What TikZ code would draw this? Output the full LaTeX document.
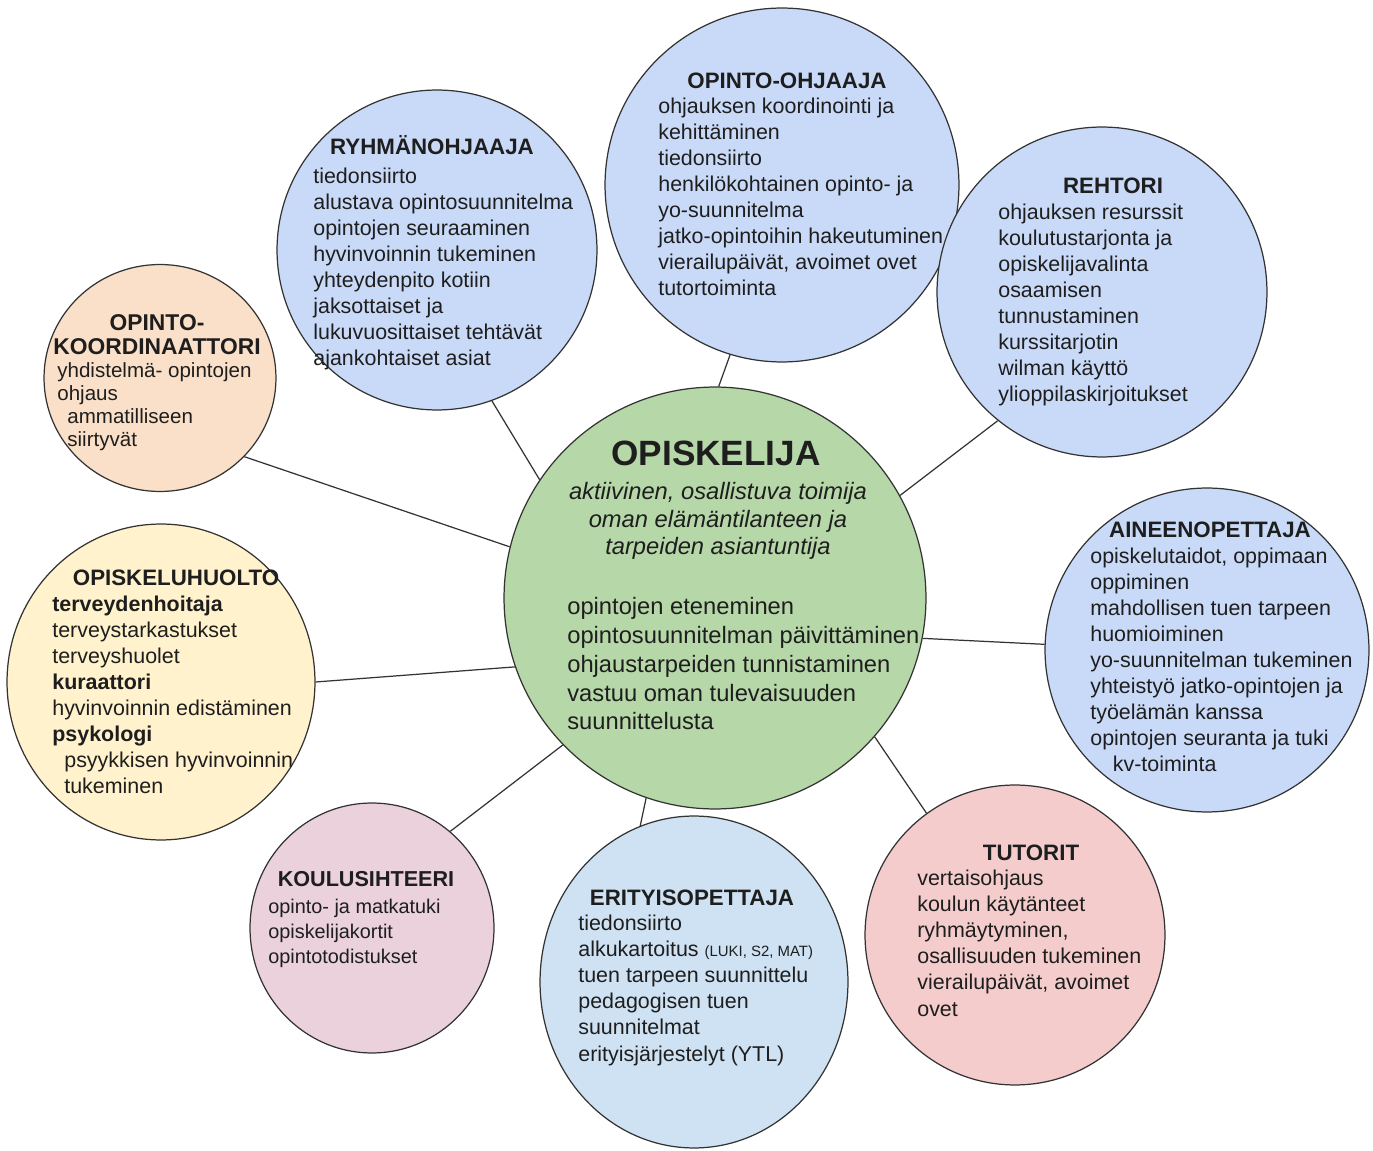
\documentclass[tikz,border=0pt]{standalone}
\usepackage{fontspec}
\setmainfont{Liberation Sans}
\usetikzlibrary{shapes.geometric}
\definecolor{bluefill}{HTML}{C9DAF8}
\definecolor{greenfill}{HTML}{B6D7A8}
\definecolor{peachfill}{HTML}{FAE0C8}
\definecolor{yellowfill}{HTML}{FFF2CC}
\definecolor{pinkfill}{HTML}{EAD1DC}
\definecolor{lightbluefill}{HTML}{CFE2F3}
\definecolor{redfill}{HTML}{F4CCCC}
\definecolor{edgecol}{HTML}{333333}
\definecolor{ink}{HTML}{1E1E1E}
\tikzset{
  bubble/.style={ellipse, draw=edgecol, line width=0.7pt, inner sep=0pt},
  head/.style={font=\fontsize{12.7}{14.8}\selectfont\bfseries, text=ink, anchor=base, inner sep=0pt},
  body/.style={font=\fontsize{12.2}{14.8}\selectfont, text=ink, align=left, anchor=base west, inner sep=0pt},
  link/.style={draw=edgecol, line width=0.7pt}
}
\begin{document}
\begin{tikzpicture}[x=0.02cm, y=-0.02cm]
\useasboundingbox (0,0) rectangle (1373,1151);
\node[bubble, fill=greenfill, minimum width=8.44cm, minimum height=8.44cm] (opisk) at (715,598) {};
\node[bubble, fill=bluefill, minimum width=6.4cm, minimum height=6.4cm] (ryhma) at (437,250) {};
\node[bubble, fill=bluefill, minimum width=7.08cm, minimum height=7.08cm] (ohjaaja) at (782,185) {};
\node[bubble, fill=bluefill, minimum width=6.6cm, minimum height=6.6cm] (rehtori) at (1102,292) {};
\node[bubble, fill=bluefill, minimum width=6.48cm, minimum height=6.48cm] (aine) at (1207,650) {};
\node[bubble, fill=redfill, minimum width=6cm, minimum height=6cm] (tutorit) at (1015,935) {};
\node[bubble, fill=lightbluefill, minimum width=6.16cm, minimum height=6.64cm] (erityis) at (694,982) {};
\node[bubble, fill=pinkfill, minimum width=4.88cm, minimum height=5cm] (koulu) at (372,928) {};
\node[bubble, fill=yellowfill, minimum width=6.16cm, minimum height=6.32cm] (huolto) at (161,682) {};
\node[bubble, fill=peachfill, minimum width=4.64cm, minimum height=4.54cm] (koord) at (160,378) {};

\draw[link] (ryhma.-70) -- (opisk.146);
\draw[link] (ohjaaja.-107) -- (opisk.89);
\draw[link] (rehtori.-129) -- (opisk.29);
\draw[link] (aine.178) -- (opisk.-11);
\draw[link] (tutorit.126) -- (opisk.-41);
\draw[link] (erityis.109) -- (opisk.-109);
\draw[link] (koulu.51) -- (opisk.-136);
\draw[link] (huolto.0) -- (opisk.-161);
\draw[link] (koord.-43) -- (opisk.166);

% multi-line texts sit on the baseline of their last line
\node[head, font=\fontsize{20}{22}\selectfont\bfseries] (opisktitle) at (716,466) {OPISKELIJA};
\node[font=\fontsize{13.5}{15.9}\selectfont\itshape, text=ink, align=center, anchor=base, inner sep=0pt] (opiskrole) at (718,555)
  {aktiivinen, osallistuva toimija\\oman elämäntilanteen ja\\tarpeiden asiantuntija};
\node[body, font=\fontsize{13.5}{16.5}\selectfont] (opisktxt) at (567,730)
  {opintojen eteneminen\\opintosuunnitelman päivittäminen\\ohjaustarpeiden tunnistaminen\\vastuu oman tulevaisuuden\\suunnittelusta};

\node[head] (ryhmatitle) at (432,155) {RYHMÄNOHJAAJA};
\node[body] (ryhmatxt) at (313,366)
  {tiedonsiirto\\alustava opintosuunnitelma\\opintojen seuraaminen\\hyvinvoinnin tukeminen\\yhteydenpito kotiin\\jaksottaiset ja\\lukuvuosittaiset tehtävät\\ajankohtaiset asiat};

\node[head] (ohjaajatitle) at (787,89) {OPINTO-OHJAAJA};
\node[body] (ohjaajatxt) at (658,296)
  {ohjauksen koordinointi ja\\kehittäminen\\tiedonsiirto\\henkilökohtainen opinto- ja\\yo-suunnitelma\\jatko-opintoihin hakeutuminen\\vierailupäivät, avoimet ovet\\tutortoiminta};

\node[head] (rehtorititle) at (1113,194) {REHTORI};
\node[body] (rehtoritxt) at (998,402)
  {ohjauksen resurssit\\koulutustarjonta ja\\opiskelijavalinta\\osaamisen\\tunnustaminen\\kurssitarjotin\\wilman käyttö\\ylioppilaskirjoitukset};

\node[head] (ainetitle) at (1210,538) {AINEENOPETTAJA};
\node[body] (ainetxt) at (1090,772)
  {opiskelutaidot, oppimaan\\oppiminen\\mahdollisen tuen tarpeen\\huomioiminen\\yo-suunnitelman tukeminen\\yhteistyö jatko-opintojen ja\\työelämän kanssa\\opintojen seuranta ja tuki\\\hspace*{0.45cm}kv-toiminta};

\node[head] (tutorittitle) at (1031,860) {TUTORIT};
\node[body] (tutorittxt) at (917,1016)
  {vertaisohjaus\\koulun käytänteet\\ryhmäytyminen,\\osallisuuden tukeminen\\vierailupäivät, avoimet\\ovet};

\node[head] (erityistitle) at (692,905) {ERITYISOPETTAJA};
\node[body] (erityistxt) at (578,1061)
  {tiedonsiirto\\alkukartoitus {\fontsize{8.5}{10}\selectfont(LUKI, S2, MAT)}\\tuen tarpeen suunnittelu\\pedagogisen tuen\\suunnitelmat\\erityisjärjestelyt (YTL)};

\node[head, font=\fontsize{12.3}{14.2}\selectfont\bfseries] (koulutitle) at (366,887) {KOULUSIHTEERI};
\node[body, font=\fontsize{11.3}{14.2}\selectfont] (koulutxt) at (268,963)
  {opinto- ja matkatuki\\opiskelijakortit\\opintotodistukset};

\node[head] (huoltotitle) at (176,586) {OPISKELUHUOLTO};
\node[body] (huoltotxt) at (52,794)
  {\textbf{terveydenhoitaja}\\terveystarkastukset\\terveyshuolet\\\textbf{kuraattori}\\hyvinvoinnin edistäminen\\\textbf{psykologi}\\\hspace*{0.24cm}psyykkisen hyvinvoinnin\\\hspace*{0.24cm}tukeminen};

\node[head, font=\fontsize{13}{14.2}\selectfont\bfseries, align=center] (koordtitle) at (157,355) {OPINTO-\\KOORDINAATTORI};
\node[body, font=\fontsize{11.7}{13.1}\selectfont] (koordtxt) at (57,447)
  {yhdistelmä- opintojen\\ohjaus\\\hspace*{0.2cm}ammatilliseen\\\hspace*{0.2cm}siirtyvät};
\end{tikzpicture}
\end{document}
